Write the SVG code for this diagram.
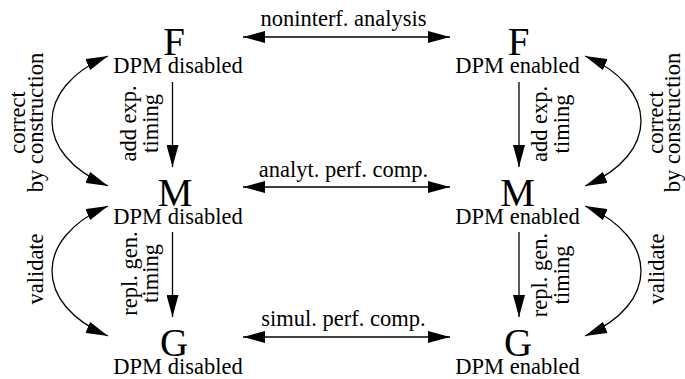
<svg xmlns="http://www.w3.org/2000/svg" width="685" height="379" viewBox="0 0 685 379">
<style>
text{font-family:"Liberation Serif","Times New Roman",serif;fill:#000}
.big{font-size:39px;text-anchor:middle}
.lbl{font-size:22.5px;text-anchor:middle}
.ln{fill:none;stroke:#000;stroke-width:1.3}
</style>
<defs>
<marker id="ah" markerUnits="userSpaceOnUse" markerWidth="22" markerHeight="12" viewBox="0 0 22 12" refX="22" refY="6" orient="auto-start-reverse">
<path d="M0,0 L22,6 L0,12 z" fill="#000"/>
</marker>
</defs>
<rect width="685" height="379" fill="#fff"/>
<g id="connectors">
<path class="ln" d="M243,37 L450,37" marker-start="url(#ah)" marker-end="url(#ah)"/>
<path class="ln" d="M243,187 L450,187" marker-start="url(#ah)" marker-end="url(#ah)"/>
<path class="ln" d="M243,337 L450,337" marker-start="url(#ah)" marker-end="url(#ah)"/>
<path class="ln" d="M172.5,82 L172.5,167" marker-end="url(#ah)"/>
<path class="ln" d="M172.5,232 L172.5,317" marker-end="url(#ah)"/>
<path class="ln" d="M519,82 L519,167" marker-end="url(#ah)"/>
<path class="ln" d="M519,232 L519,317" marker-end="url(#ah)"/>
<path class="ln" d="M108,56 C33.3,87.7 33.3,154.3 108,186" marker-start="url(#ah)" marker-end="url(#ah)"/>
<path class="ln" d="M108,206 C33.3,237.7 33.3,304.3 108,336" marker-start="url(#ah)" marker-end="url(#ah)"/>
<path class="ln" d="M585,56 C659.7,87.7 659.7,154.3 585,186" marker-start="url(#ah)" marker-end="url(#ah)"/>
<path class="ln" d="M585,206 C659.7,237.7 659.7,304.3 585,336" marker-start="url(#ah)" marker-end="url(#ah)"/>
<text class="lbl" x="343.5" y="26">noninterf. analysis</text>
<text class="lbl" x="343.5" y="176.5">analyt. perf. comp.</text>
<text class="lbl" x="343.5" y="326">simul. perf. comp.</text>
<text class="lbl" transform="translate(136,123.5) rotate(-90)"><tspan x="0" y="0">add exp.</tspan><tspan x="0" y="21.5">timing</tspan></text>
<text class="lbl" transform="translate(136.5,273.5) rotate(-90)"><tspan x="0" y="0">repl. gen.</tspan><tspan x="0" y="21.5">timing</tspan></text>
<text class="lbl" transform="translate(547,124) rotate(-90)"><tspan x="0" y="0">add exp.</tspan><tspan x="0" y="21.5">timing</tspan></text>
<text class="lbl" transform="translate(547,275) rotate(-90)"><tspan x="0" y="0">repl. gen.</tspan><tspan x="0" y="21.5">timing</tspan></text>
<text class="lbl" transform="translate(24.5,122.5) rotate(-90)"><tspan x="0" y="0">correct</tspan><tspan x="0" y="18">by construction</tspan></text>
<text class="lbl" transform="translate(662.5,122.5) rotate(-90)"><tspan x="0" y="0">correct</tspan><tspan x="0" y="17.5">by construction</tspan></text>
<text class="lbl" transform="translate(43,269) rotate(-90)">validate</text>
<text class="lbl" transform="translate(664,269) rotate(-90)">validate</text>
</g>
<g id="F-disabled"><text class="big" x="174" y="55">F</text><text class="lbl" x="178" y="73">DPM disabled</text></g>
<g id="M-disabled"><text class="big" x="175" y="206">M</text><text class="lbl" x="178" y="224">DPM disabled</text></g>
<g id="G-disabled"><text class="big" x="174" y="356">G</text><text class="lbl" x="178" y="374">DPM disabled</text></g>
<g id="F-enabled"><text class="big" x="518.5" y="55">F</text><text class="lbl" x="517.5" y="73">DPM enabled</text></g>
<g id="M-enabled"><text class="big" x="517.5" y="206">M</text><text class="lbl" x="517.5" y="224">DPM enabled</text></g>
<g id="G-enabled"><text class="big" x="518" y="356">G</text><text class="lbl" x="517.5" y="374">DPM enabled</text></g>
</svg>
